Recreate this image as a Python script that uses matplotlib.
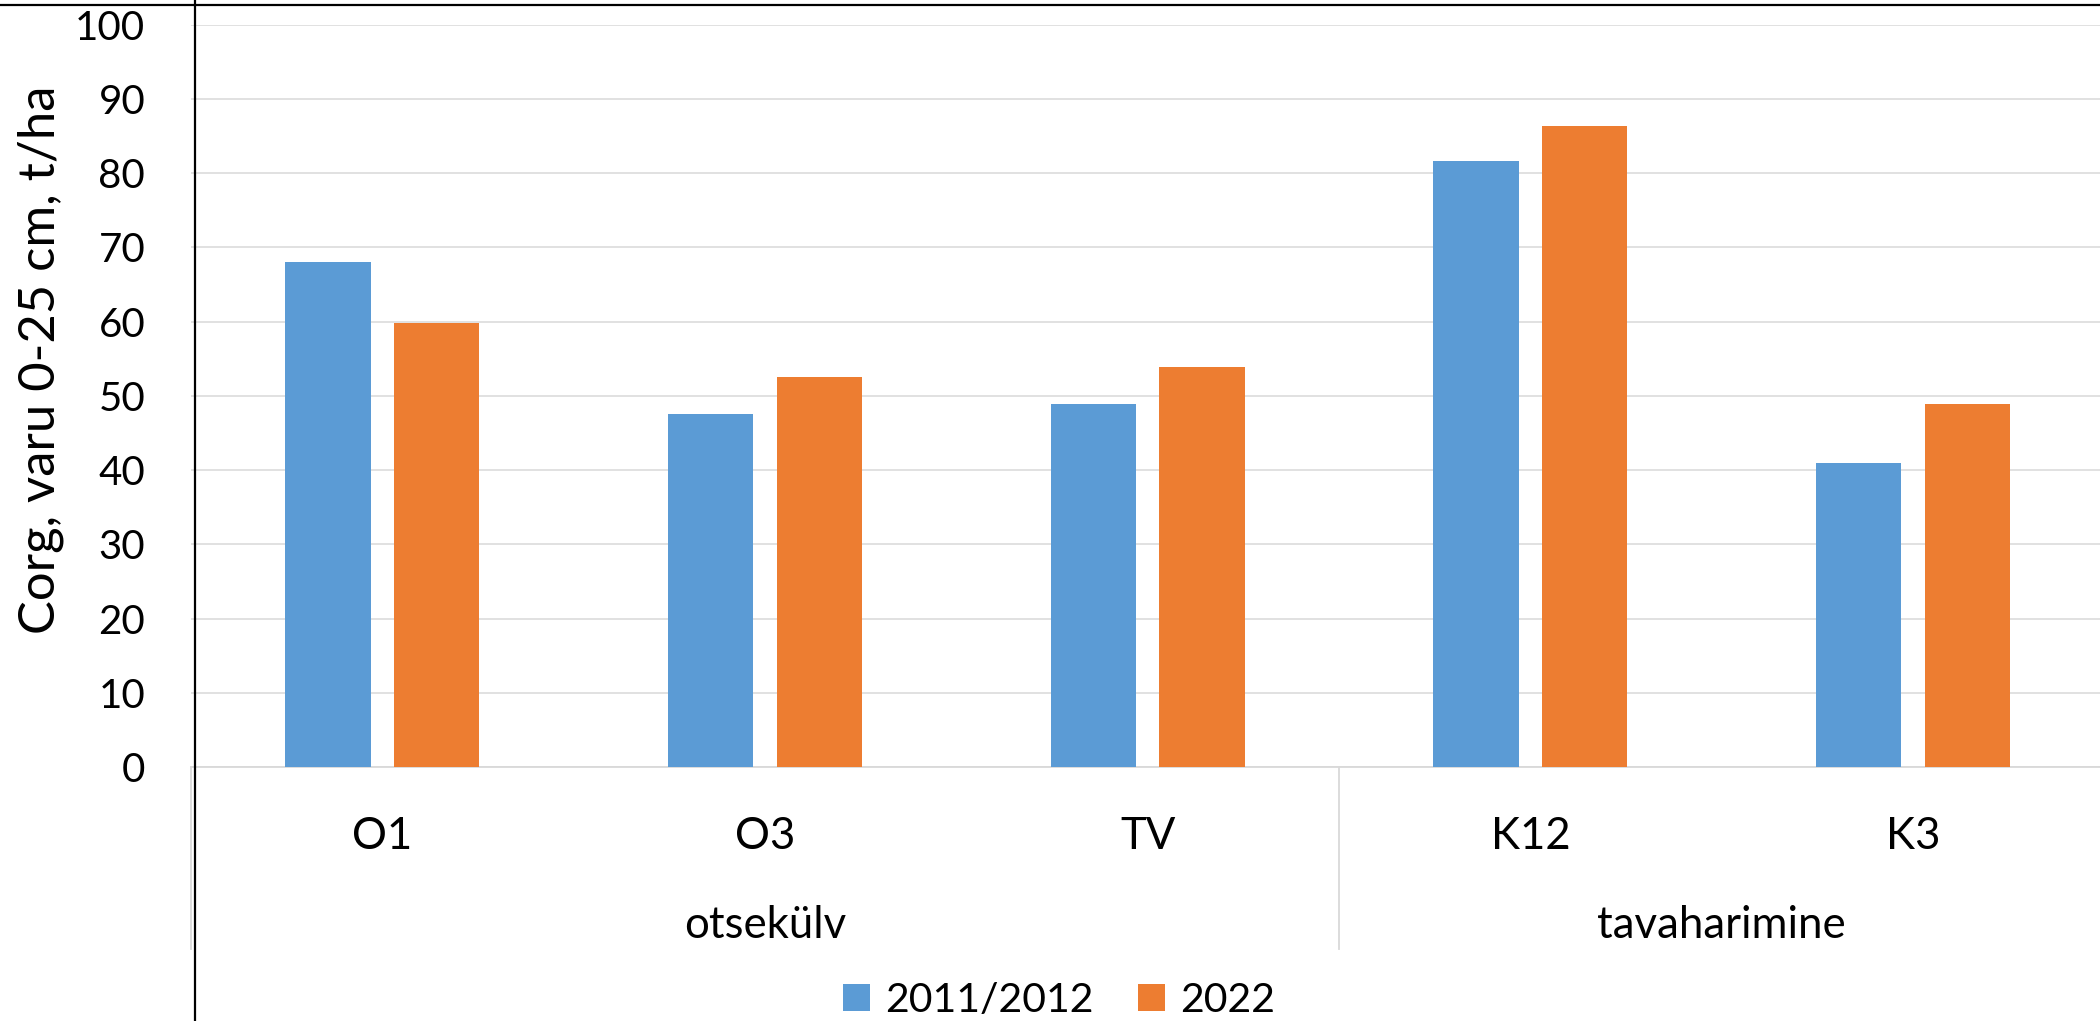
import numpy as np
import matplotlib
matplotlib.use("Agg")
import matplotlib.pyplot as plt
from matplotlib.lines import Line2D
import matplotlib.transforms as mtransforms

plt.rcParams['font.family'] = ['Lato', 'DejaVu Sans']

# data
sites = ["O1", "O3", "TV", "K12", "K3"]
groups = ["otsekülv", "tavaharimine"]
group_sizes = [3, 2]
series_names = ["2011/2012", "2022"]
vals_2011 = [68.0, 47.5, 48.9, 81.7, 41.0]
vals_2022 = [59.8, 52.6, 53.9, 86.3, 48.9]
colors = ["#5B9BD5", "#ED7D31"]

W, H = 2100, 1021
fig = plt.figure(figsize=(W / 100, H / 100), dpi=100)
ax = fig.add_axes([191 / W, 1 - 767 / H, 1913.5 / W, 742.3 / H])

x = np.arange(len(sites))
bw = 0.223
off = 0.142
ax.bar(x - off, vals_2011, bw, color=colors[0], label=series_names[0], zorder=3)
ax.bar(x + off, vals_2022, bw, color=colors[1], label=series_names[1], zorder=3)

ax.set_xlim(-0.5, len(sites) - 0.5)
ax.set_ylim(0, 100)
ax.set_yticks(np.arange(0, 101, 10))
ax.yaxis.grid(True, color="#D9D9D9", linewidth=1.1, zorder=0)
ax.set_axisbelow(True)
for s in ax.spines.values():
    s.set_visible(False)
ax.axhline(0, color="#D9D9D9", linewidth=1.3, zorder=2, clip_on=False)

ax.tick_params(axis="y", length=0, pad=33, labelsize=29, labelcolor="black")
ax.set_xticks(x)
ax.set_xticklabels(sites)
ax.tick_params(axis="x", length=0, pad=35, labelsize=31.5, labelcolor="black")

# group labels + separators
trans = mtransforms.blended_transform_factory(ax.transData, ax.transAxes)
sep_depth = -(949 - 767) / 742.3
start = -0.5
seps = [start]
for g, n in zip(groups, group_sizes):
    ax.text(start + n / 2, -(938 - 767) / 742.3, g, transform=trans,
            ha="center", va="baseline", fontsize=31.5)
    start += n
    seps.append(start)
for sx in seps:
    ax.plot([sx, sx], [0, sep_depth], transform=trans, color="#D9D9D9",
            linewidth=1.3, clip_on=False)

# y label
fig.text(41 / W, 1 - 360 / H, "Corg, varu 0-25 cm, t/ha", rotation=90,
         ha="center", va="center", fontsize=36.5)

# legend
fig.legend(loc="lower center", bbox_to_anchor=(1059 / W, -0.026), ncol=2,
           frameon=False, fontsize=29.5, handlelength=0.66, handleheight=0.66,
           handletextpad=0.35, columnspacing=1.1, borderpad=0.2)

# frame lines from the source crop
fig.add_artist(Line2D([195 / W, 195 / W], [0, 1], color="black", linewidth=1.6,
                      transform=fig.transFigure))
fig.add_artist(Line2D([0, 1], [1 - 5 / H, 1 - 5 / H], color="black", linewidth=1.6,
                      transform=fig.transFigure))

fig.savefig("out.png", dpi=100)
